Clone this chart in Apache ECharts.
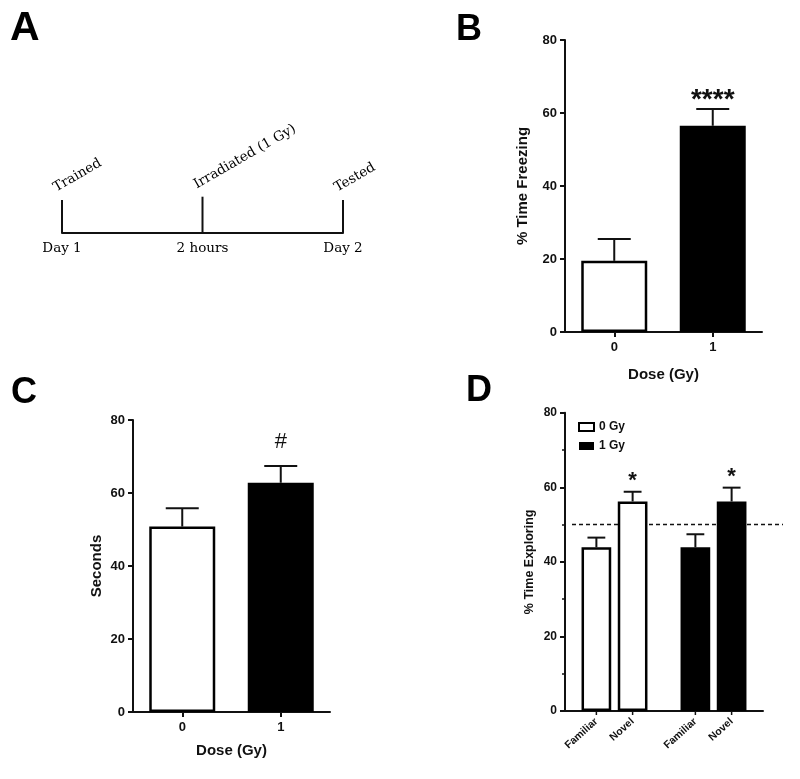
<!DOCTYPE html>
<html><head><meta charset="utf-8">
<script src="https://cdn.jsdelivr.net/npm/echarts@6/dist/echarts.min.js"></script>
<style>html,body{margin:0;padding:0;background:#fff}#c{width:800px;height:779px}</style>
</head><body><div id="c"></div>
<script>
// ---- Panel A: timeline ----
const timepoints = ['Day 1', '2 hours', 'Day 2'];
const events = ['Trained', 'Irradiated (1 Gy)', 'Tested'];
const eventMarks = [1, 1.1, 1];

// ---- Panel B: % time freezing ----
const doseLevels = ['0', '1'];
const freezingMean = [19.5, 56.5];
const freezingSem = [6.0, 4.6];
const freezingSig = ['', '****'];

// ---- Panel C: seconds ----
const secondsMean = [50.8, 62.8];
const secondsSem = [5.0, 4.6];
const secondsSig = ['', '#'];

// ---- Panel D: % time exploring ----
const doseGroups = ['0 Gy', '1 Gy'];
const objectTypes = ['Familiar', 'Novel'];
const familiarMean = [43.9, 43.9];
const familiarSem = [2.6, 3.5];
const novelMean = [56.2, 56.2];
const novelSem = [2.6, 3.7];
const familiarSig = ['', ''];
const novelSig = ['*', '*'];
const chanceLevel = 50;

const INK = '#111';
const SANS = 'Liberation Sans';
const SERIF = 'DejaVu Serif';
const fills = [
  { color: '#ffffff', borderColor: '#000', borderWidth: 2.5 },
  { color: '#000', borderColor: '#000', borderWidth: 0 }
];

function errorBars(sig, barFrac, gapFrac, offsetSign, capFrac, star, tick) {
  return function (params, api) {
    const idx = api.value(0);
    const band = api.size([1, 0])[0];
    const bw = band * barFrac;
    const off = offsetSign * (bw + bw * gapFrac) / 2;
    const base = api.coord([idx, api.value(1)]);
    const top = api.coord([idx, api.value(2)]);
    const x = base[0] + off;
    const half = bw * capFrac / 2;
    const children = [
      { type: 'line', shape: { x1: x, y1: base[1], x2: x, y2: top[1] }, style: { stroke: INK, lineWidth: 2 } },
      { type: 'line', shape: { x1: x - half, y1: top[1], x2: x + half, y2: top[1] }, style: { stroke: INK, lineWidth: 2 } }
    ];
    const s = sig[params.dataIndex];
    if (s) {
      children.push({ type: 'text', x: x, y: top[1] - star.gap,
        style: { text: s, fill: INK, fontSize: star.size, fontWeight: star.weight, fontFamily: star.family,
                 align: 'center', verticalAlign: 'middle' } });
    }
    if (tick) {
      const y0 = api.coord([idx, 0])[1];
      children.push({ type: 'line', shape: { x1: x, y1: y0, x2: x, y2: y0 + 4 }, style: { stroke: INK, lineWidth: 1.5 } });
    }
    return { type: 'group', children: children };
  };
}

function valueAxis(gridIndex, name, nameGap, labelSize, nameSize, minor) {
  return {
    gridIndex: gridIndex, type: 'value', min: 0, max: 80, interval: 20,
    axisLine: { show: true, lineStyle: { color: INK, width: 2 } },
    axisTick: { show: true, length: 5, lineStyle: { color: INK, width: 2 } },
    minorTick: { show: !!minor, splitNumber: 2, length: 3, lineStyle: { color: INK, width: 1.5 } },
    splitLine: { show: false },
    axisLabel: { color: INK, fontSize: labelSize, fontWeight: 'bold', fontFamily: SANS, margin: 8 },
    name: name, nameLocation: 'middle', nameGap: nameGap, nameRotate: 90,
    nameTextStyle: { color: INK, fontSize: nameSize, fontWeight: 'bold', fontFamily: SANS }
  };
}

function doseAxis(gridIndex, nameGap) {
  return {
    gridIndex: gridIndex, type: 'category', data: doseLevels, boundaryGap: true,
    axisLine: { show: true, lineStyle: { color: INK, width: 2 } },
    axisTick: { show: true, alignWithLabel: true, length: 5, lineStyle: { color: INK, width: 2 } },
    axisLabel: { color: INK, fontSize: 13, fontWeight: 'bold', fontFamily: SANS, margin: 9 },
    name: 'Dose (Gy)', nameLocation: 'middle', nameGap: nameGap,
    nameTextStyle: { color: INK, fontSize: 15, fontWeight: 'bold', fontFamily: SANS }
  };
}

function doseBars(axisIndex, means) {
  return {
    type: 'bar', xAxisIndex: axisIndex, yAxisIndex: axisIndex, barWidth: '67%', z: 2,
    data: means.map((v, i) => ({ value: v, itemStyle: fills[i] }))
  };
}

const dBars = [];
[familiarMean, novelMean].forEach((means, o) => {
  doseGroups.forEach((g, d) => {
    dBars.push({
      type: 'bar', name: g, xAxisIndex: 3, yAxisIndex: 3, stack: objectTypes[o],
      barWidth: '30%', barGap: '22%', z: 2,
      data: doseGroups.map((_, k) => (k === d ? means[k] : '-')),
      itemStyle: fills[d],
      label: { show: true, position: 'bottom', distance: 9, formatter: objectTypes[o], rotate: 42,
               align: 'right', verticalAlign: 'middle', fontSize: 10.5, fontWeight: 'bold',
               fontFamily: SANS, color: INK }
    });
  });
});

const titleStyle = { color: '#000', fontSize: 36, fontWeight: 'bold', fontFamily: SANS };

const option = {
  animation: false,
  backgroundColor: '#fff',
  title: [
    { text: 'A', left: 10, top: 8, padding: 0, textStyle: Object.assign({}, titleStyle, { fontSize: 41 }) },
    { text: 'B', left: 456, top: 12, padding: 0, textStyle: titleStyle },
    { text: 'C', left: 11, top: 375, padding: 0, textStyle: titleStyle },
    { text: 'D', left: 466, top: 373, padding: 0, textStyle: titleStyle }
  ],
  legend: {
    data: doseGroups, orient: 'vertical', left: 578, top: 421, padding: 0,
    itemWidth: 15, itemHeight: 8, itemGap: 7, icon: 'rect', selectedMode: false,
    textStyle: { color: INK, fontSize: 12, fontWeight: 'bold', fontFamily: SANS }
  },
  grid: [
    { left: 62, width: 281, top: 200, height: 33, outerBoundsMode: 'none' },
    { left: 565, width: 197, top: 40, height: 292, outerBoundsMode: 'none' },
    { left: 133, width: 197, top: 420, height: 292, outerBoundsMode: 'none' },
    { left: 565, width: 198, top: 412.7, height: 298.3, outerBoundsMode: 'none' }
  ],
  xAxis: [
    { gridIndex: 0, type: 'category', data: timepoints, boundaryGap: false,
      axisLine: { show: true, lineStyle: { color: INK, width: 2 } },
      axisTick: { show: false },
      axisLabel: { color: '#000', fontSize: 13.5, fontFamily: SERIF, margin: 8 } },
    doseAxis(1, 35),
    doseAxis(2, 31),
    { gridIndex: 3, type: 'category', data: doseGroups, boundaryGap: true,
      axisLine: { show: true, lineStyle: { color: INK, width: 2 } },
      axisTick: { show: false }, axisLabel: { show: false } }
  ],
  yAxis: [
    { gridIndex: 0, type: 'value', min: 0, max: 1, show: false },
    valueAxis(1, '% Time Freezing', 35, 13, 15, false),
    valueAxis(2, 'Seconds', 28.5, 13, 15, false),
    valueAxis(3, '% Time Exploring', 28.5, 12, 12.5, true)
  ],
  series: [
    { type: 'bar', xAxisIndex: 0, yAxisIndex: 0, data: eventMarks, barWidth: 2, clip: false,
      itemStyle: { color: INK },
      label: { show: true, position: 'top', distance: 4, offset: [-3, -3], rotate: 30,
               align: 'left', verticalAlign: 'bottom', color: '#000', fontSize: 13.5, fontFamily: SERIF,
               formatter: p => events[p.dataIndex] } },

    doseBars(1, freezingMean),
    { type: 'custom', xAxisIndex: 1, yAxisIndex: 1, z: 3,
      data: freezingMean.map((m, i) => [i, m, m + freezingSem[i]]),
      renderItem: errorBars(freezingSig, 0.67, 0, 0, 0.5, { gap: 9, size: 28, weight: 'bold', family: SANS }, false) },

    doseBars(2, secondsMean),
    { type: 'custom', xAxisIndex: 2, yAxisIndex: 2, z: 3,
      data: secondsMean.map((m, i) => [i, m, m + secondsSem[i]]),
      renderItem: errorBars(secondsSig, 0.67, 0, 0, 0.5, { gap: 24, size: 22, weight: 'normal', family: SANS }, false) },

    { type: 'custom', xAxisIndex: 3, yAxisIndex: 3, z: 1, data: [[0, chanceLevel]],
      renderItem: function (params, api) {
        const y = api.coord([0, api.value(1)])[1];
        const cs = params.coordSys;
        return { type: 'line', shape: { x1: cs.x + 7, y1: y, x2: cs.x + cs.width + 20, y2: y },
                 style: { stroke: INK, lineWidth: 1.5, lineDash: [4, 3] } };
      } },
    ...dBars,
    { type: 'custom', xAxisIndex: 3, yAxisIndex: 3, z: 3,
      data: familiarMean.map((m, i) => [i, m, m + familiarSem[i]]),
      renderItem: errorBars(familiarSig, 0.3, 0.22, -1, 0.6, { gap: 11, size: 22, weight: 'bold', family: SANS }, true) },
    { type: 'custom', xAxisIndex: 3, yAxisIndex: 3, z: 3,
      data: novelMean.map((m, i) => [i, m, m + novelSem[i]]),
      renderItem: errorBars(novelSig, 0.3, 0.22, 1, 0.6, { gap: 11, size: 22, weight: 'bold', family: SANS }, true) }
  ]
};

const chart = echarts.init(document.getElementById('c'), null, { renderer: 'canvas' });
chart.setOption(option);
</script>
</body></html>
